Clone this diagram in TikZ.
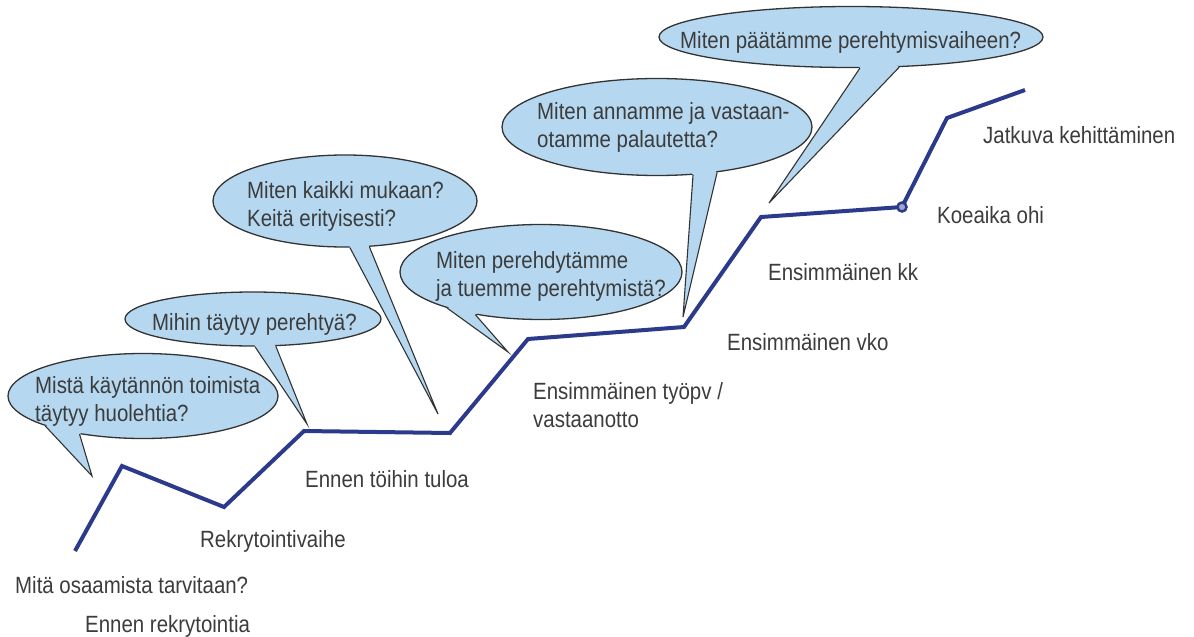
\documentclass[tikz,border=0pt]{standalone}
\usepackage{fontspec}
\setmainfont{Liberation Sans}[FakeStretch = 0.87]
\usetikzlibrary{shapes.geometric, calc}
\definecolor{pathblue}{HTML}{2B3A8A}
\definecolor{bubblefill}{HTML}{B5D8F0}
\definecolor{bubbleline}{HTML}{333333}
\definecolor{labelgray}{HTML}{3C3C3C}
\tikzset{
	bubble/.style = {ellipse, fill = bubblefill, draw = bubbleline, line width = 1.3pt, inner sep = 0pt},
	tailline/.style = {draw = bubbleline, line width = 1.1pt, line join = miter},
	pathline/.style = {draw = pathblue, line width = 4pt, line join = miter},
	phase/.style = {anchor = base west, inner sep = 0pt, text = labelgray, align = left},
	bubbletext/.style = {phase},
}
\begin{document}
\begin{tikzpicture}[x = 1pt, y = -1pt, font = \fontsize{23.5}{28}\selectfont]
	\useasboundingbox (0,0) rectangle (1194,637);
	% stepped path
	\foreach \x/\y [count = \i from 0] in {75/551, 122/466, 224/507, 304/431, 450/433, 528/339, 684/327, 761/217, 902/207, 947/118, 1025/90}
	\coordinate (p\i) at (\x,\y);
	\draw[pathline] (p0) \foreach \i in {1,...,10} {-- (p\i)};
	\node[circle, draw = pathblue, line width = 2.5pt, fill = pathblue!45, inner sep = 0pt, minimum size = 9pt] (koe) at (p8) {};
	% bubbles with tails
	\foreach \b/\cx/\cy/\w/\h/\tx/\ty/\aa/\ab in {b1/143/396/270/85/92/476/197/211, b2/253/319/256/54/307/424/274/310, b3/345/201/264/92/438/414/276/298, b4/541/272/282/95/508/352/201/213, b5/657/127/310/97/683/317/307/323, b6/851/37/384/61/769/203/286/328}
	{
		\node[bubble, minimum width = \w, minimum height = \h] (\b) at (\cx,\cy) {};
		\coordinate (\b tip) at (\tx,\ty);
		\fill[bubblefill] ($(\b.\aa)!0.12!(\b.center)$) -- (\b.\aa) -- (\b tip) -- (\b.\ab) -- ($(\b.\ab)!0.12!(\b.center)$) -- cycle;
		\draw[tailline] (\b.\aa) -- (\b tip) -- (\b.\ab);
	}
	% questions (base = last line)
	\node[bubbletext] (q1) at (35,421) {Mistä käytännön toimista\\täytyy huolehtia?};
	\node[bubbletext] (q2) at (152,330) {Mihin täytyy perehtyä?};
	\node[bubbletext] (q3) at (247,226) {Miten kaikki mukaan?\\Keitä erityisesti?};
	\node[bubbletext] (q4) at (436,296) {Miten perehdytämme\\ja tuemme perehtymistä?};
	\node[bubbletext] (q5) at (537,147) {Miten annamme ja vastaan-\\otamme palautetta?};
	\node[bubbletext] (q6) at (680,48) {Miten päätämme perehtymisvaiheen?};
	% phases
	\node[phase] (l0) at (15,593) {Mitä osaamista tarvitaan?};
	\node[phase] (l1) at (85,632) {Ennen rekrytointia};
	\node[phase] (l2) at (200,547) {Rekrytointivaihe};
	\node[phase] (l3) at (305,487) {Ennen töihin tuloa};
	\node[phase] (l4) at (533,427) {Ensimmäinen työpv /\\vastaanotto};
	\node[phase] (l5) at (727,350) {Ensimmäinen vko};
	\node[phase] (l6) at (768,280) {Ensimmäinen kk};
	\node[phase] (l7) at (937,223) {Koeaika ohi};
	\node[phase] (l8) at (983,143) {Jatkuva kehittäminen};
\end{tikzpicture}
\end{document}
